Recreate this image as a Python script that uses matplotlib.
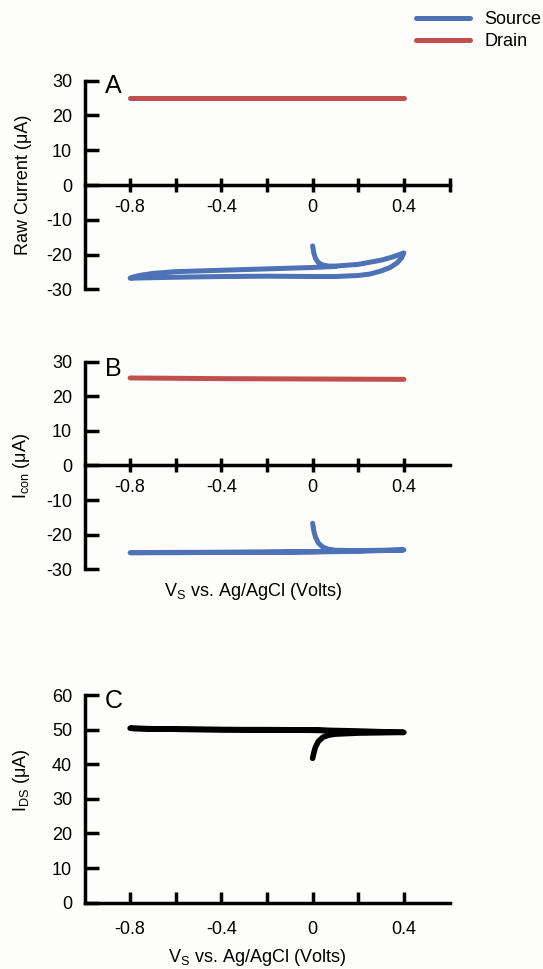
import matplotlib
matplotlib.use("Agg")
import matplotlib.pyplot as plt
import numpy as np

plt.rcParams['font.family'] = ['Liberation Sans', 'DejaVu Sans']
plt.rcParams['mathtext.default'] = 'regular'
plt.rcParams['axes.unicode_minus'] = False
plt.rcParams['font.size'] = 13

# panel A: raw currents
a_src_v = [0.00, 0.005, 0.012, 0.025, 0.045, 0.07, 0.10, 0.20, 0.30, 0.35, 0.38, 0.40, 0.39,
           0.37, 0.34, 0.30, 0.25, 0.20, 0.10, 0.00, -0.20, -0.40, -0.60, -0.75, -0.80, -0.79,
           -0.76, -0.70, -0.60, -0.40, -0.20, 0.00, 0.10]
a_src_i = [-17.5, -19.5, -21.0, -22.3, -23.0, -23.3, -23.3, -22.8, -21.6, -20.7, -20.0, -19.5,
           -20.9, -22.4, -23.7, -24.7, -25.6, -26.0, -26.3, -26.3, -26.2, -26.3, -26.5, -26.7,
           -26.8, -26.5, -26.0, -25.4, -24.9, -24.5, -24.1, -23.7, -23.4]
a_drn_v = [-0.80, -0.40, 0.00, 0.40]
a_drn_i = [24.9, 24.9, 24.9, 24.9]

# panel B: conditioned currents
b_src_v = [0.00, 0.005, 0.012, 0.025, 0.045, 0.07, 0.10, 0.20, 0.30, 0.40, 0.30, 0.20, 0.00,
           -0.20, -0.40, -0.60, -0.80, -0.60, -0.40, -0.20, 0.00, 0.10]
b_src_i = [-16.7, -18.8, -20.6, -22.4, -23.6, -24.2, -24.5, -24.6, -24.5, -24.4, -24.6, -24.8,
           -25.0, -25.1, -25.1, -25.2, -25.2, -25.1, -25.1, -25.0, -24.9, -24.8]
b_drn_v = [-0.80, -0.40, 0.00, 0.40]
b_drn_i = [25.3, 25.1, 25.0, 24.9]

# panel C: drain-source current
c_v = [0.00, 0.005, 0.012, 0.025, 0.045, 0.07, 0.10, 0.20, 0.30, 0.40, 0.30, 0.20, 0.00,
       -0.20, -0.40, -0.60, -0.80, -0.78, -0.60, -0.40, -0.20, 0.00, 0.10]
c_i = [41.7, 43.2, 44.9, 46.6, 47.8, 48.4, 48.7, 49.0, 49.1, 49.2, 49.4, 49.6, 49.9, 50.0,
       50.0, 50.1, 50.4, 50.3, 50.1, 50.0, 49.9, 49.8, 49.6]

x_ticks = [-0.8, -0.6, -0.4, -0.2, 0.0, 0.2, 0.4]
x_labels = ['-0.8', '', '-0.4', '', '0', '', '0.4']

blue = '#4E72B6'
red = '#C0504D'
bg = '#fdfdfb'
W, H = 543, 969


def make_ax(top, bottom):
    return fig.add_axes([84.5 / W, 1 - bottom / H, 365 / W, (bottom - top) / H])


def style(ax, ylim, yticks, zero_axis=True):
    ax.patch.set_alpha(0)
    ax.set_xlim(-1.0, 0.6)
    ax.set_ylim(*ylim)
    ax.spines['top'].set_visible(False)
    ax.spines['right'].set_visible(False)
    for s in ['left', 'bottom']:
        ax.spines[s].set_linewidth(2.5)
        ax.spines[s].set_capstyle('projecting')
    ax.set_yticks(yticks)
    ax.set_yticklabels([str(t) for t in yticks])
    ax.tick_params(axis='y', direction='in', length=10, width=2.5, pad=9)
    ax.set_xticks(x_ticks)
    ax.set_xticklabels(x_labels)
    if zero_axis:
        ax.spines['bottom'].set_position(('data', 0))
        ax.tick_params(axis='x', direction='inout', length=10, width=2.5, pad=5)
    else:
        ax.tick_params(axis='x', direction='in', length=8, width=2.5, pad=13)


fig = plt.figure(figsize=(W / 100, H / 100), dpi=100, facecolor=bg)

axA = make_ax(80.7, 289.4)
axB = make_ax(361.7, 569.3)
axC = make_ax(695.0, 902.7)

lw = 3.6
src_line, = axA.plot(a_src_v, a_src_i, color=blue, lw=lw, solid_capstyle='round',
                     solid_joinstyle='round', label='Source')
drn_line, = axA.plot(a_drn_v, a_drn_i, color=red, lw=lw, solid_capstyle='round', label='Drain')
style(axA, (-30, 30), [-30, -20, -10, 0, 10, 20, 30])
axA.set_xticks(x_ticks + [0.6])
axA.set_xticklabels(x_labels + [''])
axA.set_ylabel('Raw Current (μA)')
axA.yaxis.set_label_coords(-0.145, 0.5)

axB.plot(b_src_v, b_src_i, color=blue, lw=lw, solid_capstyle='round', solid_joinstyle='round')
axB.plot(b_drn_v, b_drn_i, color=red, lw=lw, solid_capstyle='round')
style(axB, (-30, 30), [-30, -20, -10, 0, 10, 20, 30])
axB.set_ylabel('I$_{con}$ (μA)')
axB.yaxis.set_label_coords(-0.145, 0.5)

axC.plot(c_v, c_i, color='black', lw=4.0, solid_capstyle='round', solid_joinstyle='round')
style(axC, (0, 60), [0, 10, 20, 30, 40, 50, 60], zero_axis=False)
axC.set_ylabel('I$_{DS}$ (μA)')
axC.yaxis.set_label_coords(-0.145, 0.59)

fig.text(253 / W, 1 - 591.7 / H, 'V$_S$ vs. Ag/AgCl (Volts)', ha='center', va='center')
fig.text(257 / W, 1 - 958 / H, 'V$_S$ vs. Ag/AgCl (Volts)', ha='center', va='center')

for letter, yb in [('A', 93), ('B', 376), ('C', 708)]:
    fig.text(105 / W, 1 - yb / H, letter, fontsize=18, ha='left', va='baseline')

fig.legend(handles=[src_line, drn_line], loc='upper left',
           bbox_to_anchor=(416 / W, 1 - 11 / H), frameon=False, borderpad=0,
           borderaxespad=0, handlelength=3.0, handletextpad=0.8, labelspacing=0.3)

fig.savefig('out.png', dpi=100, facecolor=bg)
